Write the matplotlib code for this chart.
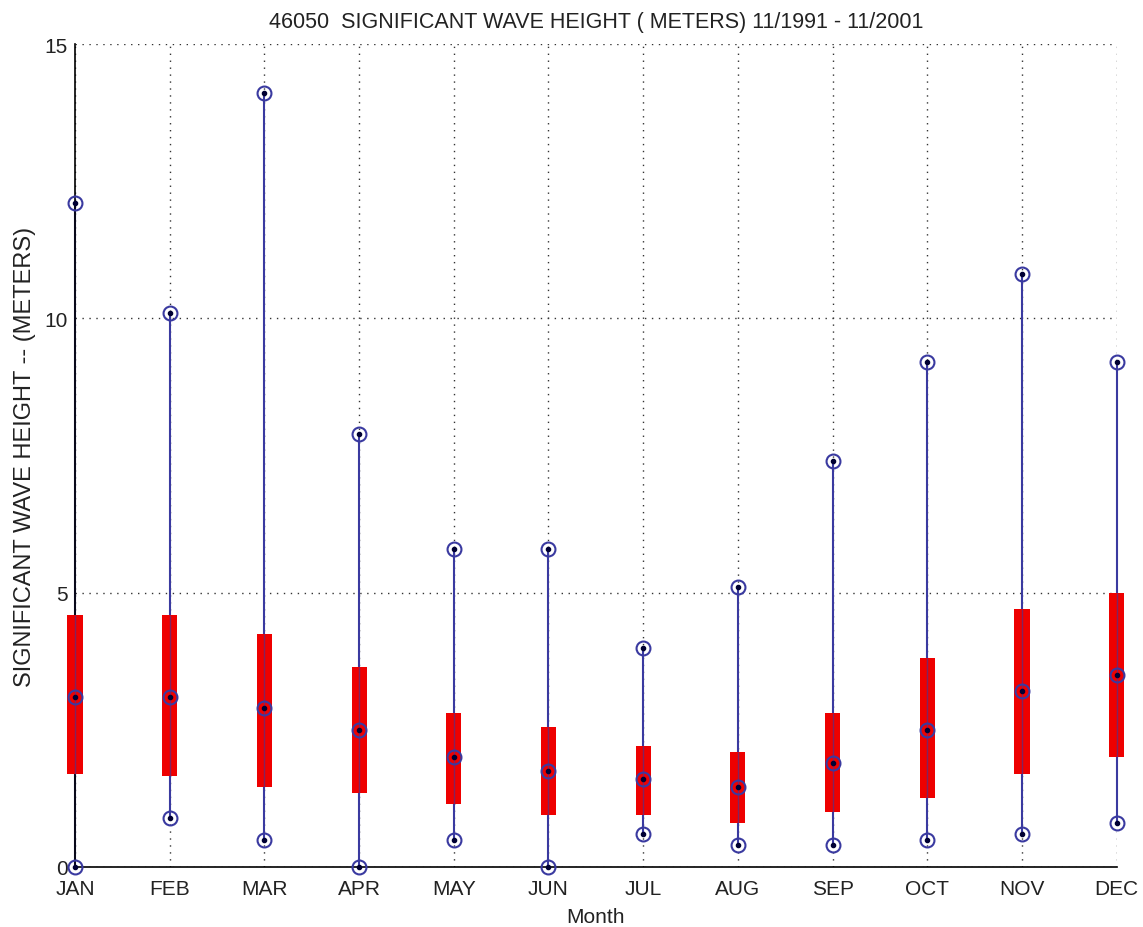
import matplotlib.pyplot as plt

plt.rcParams['font.family'] = ['Liberation Sans', 'DejaVu Sans']

# dados
meses = ['JAN', 'FEB', 'MAR', 'APR', 'MAY', 'JUN', 'JUL', 'AUG', 'SEP', 'OCT', 'NOV', 'DEC']
maximo = [12.1, 10.1, 14.1, 7.9, 5.8, 5.8, 4.0, 5.1, 7.4, 9.2, 10.8, 9.2]
minimo = [0.0, 0.9, 0.5, 0.0, 0.5, 0.0, 0.6, 0.4, 0.4, 0.5, 0.6, 0.8]
q_baixo = [1.7, 1.65, 1.45, 1.35, 1.15, 0.95, 0.95, 0.8, 1.0, 1.25, 1.7, 2.0]
q_alto = [4.6, 4.6, 4.25, 3.65, 2.8, 2.55, 2.2, 2.1, 2.8, 3.8, 4.7, 5.0]
mediana = [3.1, 3.1, 2.9, 2.5, 2.0, 1.75, 1.6, 1.45, 1.9, 2.5, 3.2, 3.5]

x = list(range(1, len(meses) + 1))

fig = plt.figure(figsize=(11.43, 9.28), dpi=100)
ax = fig.add_axes([0.0656, 0.0647, 0.9114, 0.8868])

azul = '#3a3aa0'
alturas = [a - b for a, b in zip(q_alto, q_baixo)]

ax.vlines(x, minimo, maximo, color=azul, lw=1.5, zorder=2, clip_on=False)
barras = ax.bar(x, alturas, bottom=q_baixo, width=0.16, color='#ee0000', zorder=3)
for b in barras:
    b.set_clip_on(False)
ax.vlines(x, q_baixo, q_alto, color=azul, lw=1.0, alpha=0.6, zorder=4, clip_on=False)

for serie in (maximo, minimo, mediana):
    ax.plot(x, serie, 'o', ms=10, mfc='none', mec=azul, mew=1.5, zorder=5, clip_on=False)
    ax.plot(x, serie, '.', ms=6, color='#000033', zorder=6, clip_on=False)

ax.set_xlim(1, 12)
ax.set_ylim(0, 15)
ax.set_xticks(x)
ax.set_xticklabels(meses)
ax.set_yticks([0, 5, 10, 15])
ax.tick_params(labelsize=15, length=0, colors='#222222')
ax.tick_params(axis='x', pad=9)
ax.tick_params(axis='y', pad=5)
ax.grid(True, linestyle=(0, (1, 4)), color='#333333', lw=1.0)
ax.set_axisbelow(True)
for lado in ('top', 'right'):
    ax.spines[lado].set_visible(False)
for lado in ('left', 'bottom'):
    ax.spines[lado].set_linewidth(1.2)

ax.set_title('46050  SIGNIFICANT WAVE HEIGHT ( METERS) 11/1991 - 11/2001', fontsize=15.5, color='#222222', pad=12)
ax.set_xlabel('Month', fontsize=15, color='#222222', labelpad=6)
ax.set_ylabel('SIGNIFICANT WAVE HEIGHT -- (METERS)', fontsize=17, color='#222222', labelpad=6)

plt.savefig('out.png', dpi=100)
